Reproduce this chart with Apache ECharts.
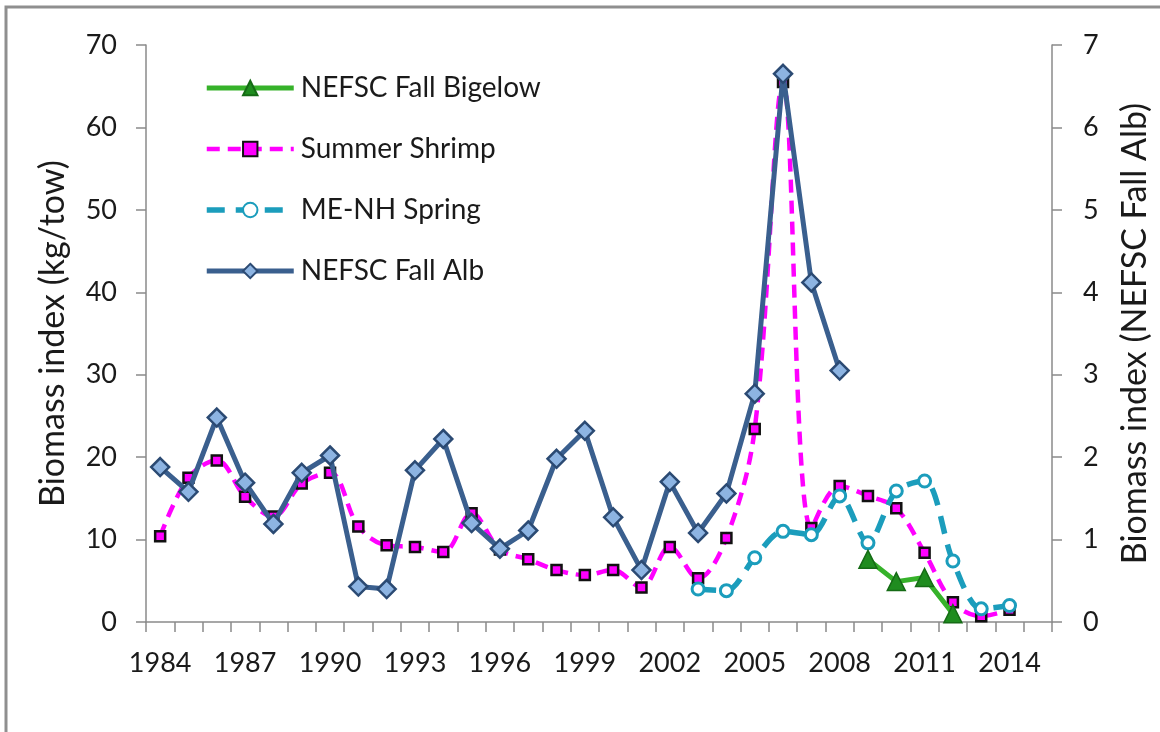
<!DOCTYPE html>
<html>
<head>
<meta charset="utf-8">
<script src="https://cdn.jsdelivr.net/npm/echarts@6/dist/echarts.min.js"></script>
<style>
  html, body { margin: 0; padding: 0; background: #fff; }
  #chart { width: 1160px; height: 732px; }
</style>
</head>
<body>
<div id="chart"></div>
<script>
// years on the x axis (2015 is an empty slot, as in the source)
const years = ["1984","1985","1986","1987","1988","1989","1990","1991","1992","1993",
  "1994","1995","1996","1997","1998","1999","2000","2001","2002","2003",
  "2004","2005","2006","2007","2008","2009","2010","2011","2012","2013","2014","2015"];

// NEFSC Fall Bigelow, kg/tow (left axis)
const bigelow = [null,null,null,null,null,null,null,null,null,null,
  null,null,null,null,null,null,null,null,null,null,
  null,null,null,null,null,7.6,4.9,5.4,1.0,null,null,null];

// Summer Shrimp, kg/tow (left axis)
const summerShrimp = [10.4,17.5,19.6,15.2,12.8,16.8,18.1,11.6,9.3,9.1,
  8.5,13.2,8.8,7.6,6.3,5.7,6.3,4.2,9.1,5.3,
  10.2,23.4,65.5,11.4,16.5,15.3,13.8,8.4,2.4,0.7,1.5,null];

// ME-NH Spring, kg/tow (left axis)
const meNhSpring = [null,null,null,null,null,null,null,null,null,null,
  null,null,null,null,null,null,null,null,null,4.0,
  3.8,7.8,11.0,10.6,15.3,9.6,15.9,17.1,7.4,1.6,2.0,null];

// NEFSC Fall Alb (right axis)
const fallAlb = [1.88,1.58,2.48,1.69,1.19,1.81,2.02,0.43,0.40,1.84,
  2.22,1.20,0.89,1.11,1.98,2.32,1.27,0.63,1.70,1.08,
  1.56,2.77,6.65,4.12,3.05,null,null,null,null,null,null,null];

const leftTicks = { min: 0, max: 70, interval: 10 };
const rightTicks = { min: 0, max: 7, interval: 1 };

const font = "Lato, 'Open Sans', sans-serif";
const axisGray = "#8a8a8a";
const textColor = "#1a1a1a";

let myCharts = echarts.init(document.getElementById("chart"), null, { renderer: "canvas" });

let option = {
  backgroundColor: "#fff",
  animation: false,
  textStyle: { fontFamily: font },

  // chart frame
  graphic: [{
    type: "rect",
    shape: { x: 6, y: 7, width: 1300, height: 900 },
    style: { fill: "none", stroke: "#8f8f8f", lineWidth: 3 },
    silent: true
  }],

  grid: { left: 146, right: 101, top: 45, bottom: 110 },

  legend: {
    orient: "vertical",
    left: 204,
    top: 74,
    padding: 0,
    itemWidth: 87,
    itemHeight: 18,
    itemGap: 33,
    lineStyle: { width: "inherit" },
    data: ["NEFSC Fall Bigelow", "Summer Shrimp", "ME-NH Spring", "NEFSC Fall Alb"],
    textStyle: { fontFamily: font, fontSize: 28, color: textColor, padding: [0, 0, 0, 2] }
  },

  xAxis: {
    type: "category",
    data: years,
    boundaryGap: true,
    axisLine: { lineStyle: { color: axisGray, width: 1.5 } },
    axisTick: { show: true, interval: 0, length: 10, lineStyle: { color: axisGray, width: 1.5 } },
    axisLabel: { interval: 2, margin: 28, fontSize: 27, color: textColor, fontFamily: font },
    splitLine: { show: false }
  },

  yAxis: [
    {
      type: "value",
      min: leftTicks.min, max: leftTicks.max, interval: leftTicks.interval,
      name: "Biomass index (kg/tow)",
      nameLocation: "middle",
      nameGap: 76,
      nameTextStyle: { fontSize: 34, color: textColor, fontFamily: font },
      axisLine: { show: true, lineStyle: { color: axisGray, width: 1.5 } },
      axisTick: { show: true, length: 10, lineStyle: { color: axisGray, width: 1.5 } },
      axisLabel: { margin: 29, fontSize: 27, color: textColor, fontFamily: font },
      splitLine: { show: false }
    },
    {
      type: "value",
      position: "right",
      min: rightTicks.min, max: rightTicks.max, interval: rightTicks.interval,
      name: "Biomass index (NEFSC Fall Alb)",
      nameLocation: "middle",
      nameGap: 66,
      nameRotate: 90,
      nameTextStyle: { fontSize: 34, color: textColor, fontFamily: font },
      axisLine: { show: true, lineStyle: { color: axisGray, width: 1.5 } },
      axisTick: { show: true, length: 10, lineStyle: { color: axisGray, width: 1.5 } },
      axisLabel: { margin: 31, fontSize: 27, color: textColor, fontFamily: font },
      splitLine: { show: false }
    }
  ],

  series: [
    {
      name: "Summer Shrimp",
      type: "line",
      yAxisIndex: 0,
      data: summerShrimp,
      smooth: 0.35,
      symbol: "rect",
      symbolSize: 10,
      lineStyle: { color: "#ff00ff", width: 4.5, type: [13, 8] },
      itemStyle: { color: "#ff00ff", borderColor: "#111", borderWidth: 2.5 },
      z: 2
    },
    {
      name: "ME-NH Spring",
      type: "line",
      yAxisIndex: 0,
      data: meNhSpring,
      smooth: 0.3,
      symbol: "circle",
      symbolSize: 12,
      lineStyle: { color: "#1b9dbc", width: 5.5, type: [18, 11] },
      itemStyle: { color: "#fff", borderColor: "#1b9dbc", borderWidth: 3 },
      z: 3
    },
    {
      name: "NEFSC Fall Bigelow",
      type: "line",
      yAxisIndex: 0,
      data: bigelow,
      symbol: "triangle",
      symbolSize: 18,
      lineStyle: { color: "#36b22a", width: 5 },
      itemStyle: { color: "#1f8c1f", borderColor: "#156b15", borderWidth: 1.5 },
      z: 4
    },
    {
      name: "NEFSC Fall Alb",
      type: "line",
      yAxisIndex: 1,
      data: fallAlb,
      symbol: "diamond",
      symbolSize: 18,
      lineStyle: { color: "#3a5f8e", width: 5 },
      itemStyle: { color: "#8db4e2", borderColor: "#2b4a73", borderWidth: 2.5 },
      z: 5
    }
  ]
};

myCharts.setOption(option);
</script>
</body>
</html>
